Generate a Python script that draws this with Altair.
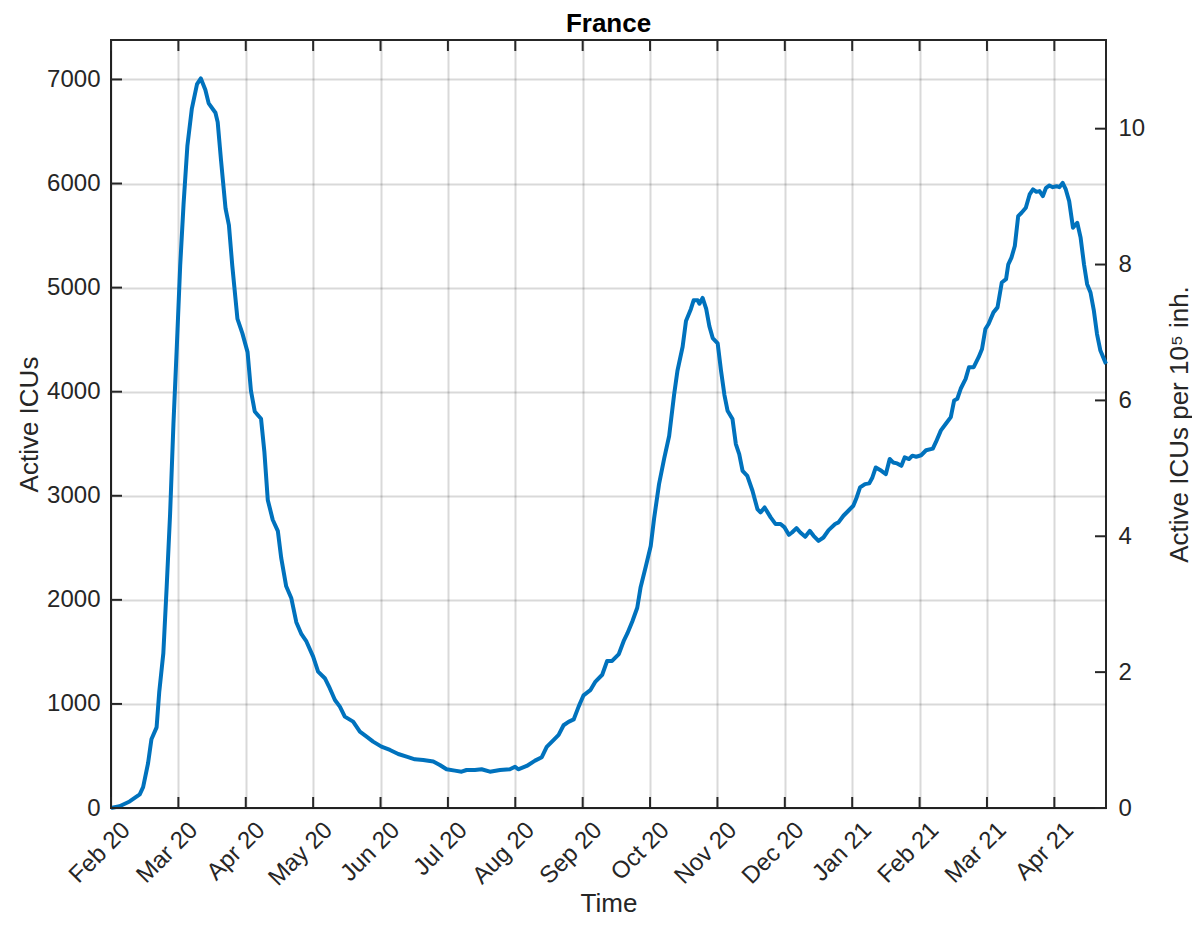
import json
import altair as alt
import pandas as pd

# ---- data (day index from 1 Feb 2020, active ICU patients) ----
days = [0, 3.8, 8.3, 12.8, 14.3, 16.5, 18, 20.3, 21.5, 23.3, 24.8, 26.3, 27.8, 29.3, 30.8, 32.3, 34, 36,
        38.3, 40, 42, 43.5, 46.5, 47.5, 49, 51, 52.5, 54, 56.3, 58.5, 60.8, 62.3, 64, 66.8, 68.3, 69.8,
        72, 74.3, 75.8, 78, 80.3, 82.5, 84.8, 87,
        90, 92.2, 95.2, 97.4, 99.7, 101.9, 104.1, 107.8, 110.8, 113.8, 116.7, 120.4, 124.2, 127.9,
        131.6, 135.3, 139, 143.5, 146.4, 149.4, 153.1, 156.1, 158.3, 162, 165, 168.7, 173.2, 177.6,
        179.9, 181.3, 185.1,
        188.8, 191.8, 194, 197, 199.3, 201.5, 203.7, 206, 208.2, 210.4, 213.4, 215.7, 218.7, 220.9,
        223.1, 226.1, 228.4, 229.9, 232.1, 234.3, 235.8, 238.1, 240.3, 241.8, 244, 246.3, 248.5,
        250.7, 252.2, 254.5, 256, 258.2, 259.4, 261.2, 262, 263.4, 265, 266.4, 267.9, 270.1, 271.6,
        273.1,
        274.5, 276.7, 278.2, 279.7, 281.2, 283.3, 285.6, 287.8, 289.2, 291, 293.7, 295.9, 298.1,
        299.9, 301.8, 303.2, 305.2, 306.9, 309.1, 311.1, 312.8, 315, 317.2, 319.5, 322.4, 323.9,
        326.1, 328.3, 330.5, 332, 333.5, 335.7, 337.6, 339, 340.5, 343, 345, 346.7, 348.2, 350,
        351.9, 353.4, 355.3, 356.8, 358.5,
        360.7, 362.9, 365.9, 367.3, 369.5, 371.7, 373.9, 375.4, 376.8, 378.3, 380.5, 382, 384.1,
        386.3, 387.8, 389.3, 390.7, 392.9, 394.7, 396.6, 398.5, 399.5, 400.9, 402.4, 403.9, 405.4,
        407.3, 409, 410.5, 412, 413.4, 414.9, 416.3, 417.8, 419.3, 421, 422.2, 423.7, 425.1, 426.6,
        428.3, 430.2, 431.7, 433.2, 434.6, 436.1, 437.6, 439, 440.5, 443]
icu = [0, 17, 63, 131, 200, 430, 660, 775, 1120, 1487, 2130, 2820, 3690, 4430, 5210, 5800, 6360, 6720,
       6955, 7010, 6900, 6770, 6680, 6590, 6220, 5760, 5600, 5210, 4700, 4560, 4380, 4010, 3810, 3740, 3420, 2960,
       2770, 2660, 2400, 2130, 2015, 1785, 1670, 1600,
       1455, 1311, 1247, 1151, 1038, 974, 878, 830, 734, 686, 638, 590, 558, 519,
       494, 468, 462, 446, 413, 372, 359, 349, 365, 365, 372, 349, 365, 372,
       397, 372, 404,
       455, 488, 587, 653, 703, 795, 828, 851, 974, 1083, 1132, 1215, 1280, 1413,
       1413, 1479, 1611, 1677, 1792, 1924, 2122, 2320, 2518, 2782, 3112, 3360, 3574,
       3970, 4201, 4432, 4680, 4795, 4878, 4878, 4845, 4901, 4795, 4630, 4515, 4465, 4201,
       3970,
       3817, 3737, 3497, 3401, 3240, 3192, 3048, 2872, 2840, 2888, 2792, 2728, 2728,
       2696, 2625, 2647, 2689, 2647, 2606, 2663, 2615, 2567, 2599, 2670, 2728, 2744,
       2808, 2856, 2904, 2984, 3080, 3112, 3119, 3176, 3272, 3240, 3208, 3353, 3320, 3311,
       3288, 3369, 3353, 3385, 3375,
       3389, 3437, 3453, 3517, 3628, 3692, 3756, 3916, 3932, 4028, 4123, 4235, 4235,
       4331, 4410, 4602, 4650, 4762, 4810, 5049, 5081, 5224, 5288, 5400, 5687, 5719,
       5767, 5895, 5943, 5920, 5927, 5879, 5959, 5981, 5965, 5974, 5965, 6006, 5943, 5831,
       5576, 5623, 5480, 5224, 5033, 4953, 4778, 4554, 4395, 4267]

month_ticks = [0, 30, 60, 90, 120, 150, 180, 210, 240, 270, 300, 330, 360, 390, 420]
month_labels = ["Feb 20", "Mar 20", "Apr 20", "May 20", "Jun 20", "Jul 20", "Aug 20", "Sep 20",
                "Oct 20", "Nov 20", "Dec 20", "Jan 21", "Feb 21", "Mar 21", "Apr 21"]
left_ticks = [0, 1000, 2000, 3000, 4000, 5000, 6000, 7000]
right_ticks = [0, 2, 4, 6, 8, 10]
pop_per_1e5 = 652.7          # France population / 10^5
x_max = 443
y_max = 7379
y2_max = y_max / pop_per_1e5

# ---- style ----
W, H = 995, 768
FONT = "Liberation Sans"
TXT = "#262626"
LINE = "#0072BD"
TICK_LEN = 11
LBL = 24
TTL = 26

df = pd.DataFrame({"day": days, "icu": icu})
xt = pd.DataFrame({"day": month_ticks})
lt = pd.DataFrame({"v": left_ticks})
rt = pd.DataFrame({"v": right_ticks})

xscale = alt.Scale(domain=[0, x_max], nice=False, zero=False)
yscale = alt.Scale(domain=[0, y_max], nice=False)
y2scale = alt.Scale(domain=[0, y2_max], nice=False)

label_expr = json.dumps(month_labels) + "[round(datum.value / 30)]"

grid_kw = dict(grid=True, gridColor="#000000", gridOpacity=0.15, gridWidth=2)

x_axis = alt.Axis(values=month_ticks, labelExpr=label_expr, title="Time",
                  labelAngle=315, labelAlign="right", labelBaseline="middle",
                  labelOffset=15, labelPadding=18, labelOverlap=False, labelBound=False,
                  ticks=False, domain=False, **grid_kw,
                  labelFont=FONT, labelFontSize=LBL, labelColor=TXT,
                  titleFont=FONT, titleFontSize=TTL, titleFontWeight="normal", titleColor=TXT,
                  titleX=W / 2, titleY=103, titleBaseline="alphabetic", titleAlign="center")

y_axis = alt.Axis(values=left_ticks, format="d", title="Active ICUs", ticks=False, domain=False,
                  **grid_kw, labelOverlap=False,
                  labelPadding=11, labelFont=FONT, labelFontSize=LBL, labelColor=TXT,
                  titleFont=FONT, titleFontSize=TTL, titleFontWeight="normal", titleColor=TXT,
                  titleAngle=270, titleX=-74, titleY=H / 2, titleBaseline="alphabetic",
                  titleAlign="center")

y2_axis = alt.Axis(values=right_ticks, format="d", orient="right", title="Active ICUs per 10⁵ inh.",
                   ticks=False, domain=False, grid=False, labelPadding=12, labelOverlap=False,
                   labelFont=FONT, labelFontSize=LBL, labelColor=TXT,
                   titleFont=FONT, titleFontSize=TTL, titleFontWeight="normal", titleColor=TXT,
                   titleAngle=270, titleX=81, titleY=H / 2, titleBaseline="alphabetic",
                   titleAlign="center")

main = alt.Chart(df).mark_line(color=LINE, strokeWidth=4, strokeJoin="round").encode(
    x=alt.X("day:Q", scale=xscale, axis=x_axis),
    y=alt.Y("icu:Q", scale=yscale, axis=y_axis),
)

bottom_ticks = alt.Chart(xt).mark_rule(color=TXT, strokeWidth=2).encode(
    x=alt.X("day:Q", scale=xscale, axis=x_axis),
    y=alt.value(H), y2=alt.value(H - TICK_LEN),
)
top_ticks = alt.Chart(xt).mark_rule(color=TXT, strokeWidth=2).encode(
    x=alt.X("day:Q", scale=xscale, axis=x_axis),
    y=alt.value(0), y2=alt.value(TICK_LEN),
)
left_tick_marks = alt.Chart(lt).mark_rule(color=TXT, strokeWidth=2).encode(
    y=alt.Y("v:Q", scale=yscale, axis=y_axis),
    x=alt.value(0), x2=alt.value(TICK_LEN),
)

left_layer = alt.layer(main, bottom_ticks, top_ticks, left_tick_marks)

right_line = alt.Chart(df).transform_calculate(
    per=f"datum.icu / {pop_per_1e5}"
).mark_line(opacity=0).encode(
    x=alt.X("day:Q", scale=xscale, axis=x_axis),
    y=alt.Y("per:Q", scale=y2scale, axis=y2_axis),
)
right_tick_marks = alt.Chart(rt).mark_rule(color=TXT, strokeWidth=2).encode(
    y=alt.Y("v:Q", scale=y2scale, axis=y2_axis),
    x=alt.value(W), x2=alt.value(W - TICK_LEN),
)
right_layer = alt.layer(right_line, right_tick_marks)

chart = alt.layer(left_layer, right_layer).resolve_scale(y="independent").properties(
    width=W, height=H,
    title=alt.TitleParams("France", font=FONT, fontSize=TTL, fontWeight="bold", color="#000000",
                          anchor="middle", offset=2),
    autosize=alt.AutoSizeParams(type="none"),
    padding={"left": 103, "top": 32, "right": 86, "bottom": 110},
).configure(background="white", view=alt.ViewConfig(stroke=TXT, strokeWidth=2))

chart.save("out.html", embed_options={"renderer": "svg", "actions": False})
